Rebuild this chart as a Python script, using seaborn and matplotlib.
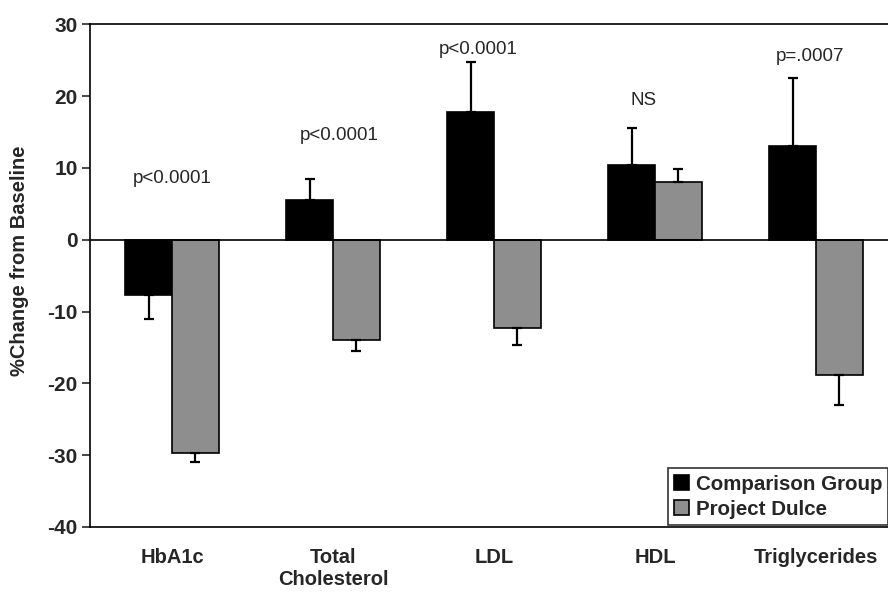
import pandas as pd
import numpy as np
import seaborn as sns
import matplotlib.pyplot as plt
from matplotlib.patches import Patch

# ---------------- data ----------------
categories = ['HbA1c', 'Total\nCholesterol', 'LDL', 'HDL', 'Triglycerides']
groups = ['Comparison Group', 'Project Dulce']
comparison = [-7.7, 5.5, 17.8, 10.4, 13.0]
comparison_err = [3.3, 3.0, 7.0, 5.1, 9.5]
dulce = [-29.7, -14.0, -12.3, 8.1, -18.8]
dulce_err = [1.3, 1.5, 2.3, 1.8, 4.2]
p_labels = ['p<0.0001', 'p<0.0001', 'p<0.0001', 'NS', 'p=.0007']
p_y = [8.5, 14.5, 26.5, 19.4, 25.5]
p_dx = [0.0, 0.04, -0.1, -0.07, -0.04]

colors = ['#000000', '#8e8e8e']

df = pd.DataFrame({
    'cat': categories * 2,
    'group': [groups[0]] * 5 + [groups[1]] * 5,
    'val': comparison + dulce,
    'err': comparison_err + dulce_err,
})

sns.set_style('white')
plt.rcParams['font.family'] = ['Liberation Sans', 'DejaVu Sans']
plt.rcParams['axes.unicode_minus'] = False

fig = plt.figure(figsize=(8.88, 5.95), dpi=100)
ax = fig.add_axes([0.1014, 0.1143, 0.910, 0.845])

sns.barplot(data=df, x='cat', y='val', hue='group', palette=colors,
            width=0.58, edgecolor='black', linewidth=1.2, errorbar=None,
            legend=False, ax=ax)

# one-sided error bars, away from zero
for bar, (_, row) in zip(ax.patches, df.iterrows()):
    xc = bar.get_x() + bar.get_width() / 2
    h = row['val']
    if h >= 0:
        yerr = [[0], [row['err']]]
    else:
        yerr = [[row['err']], [0]]
    ax.errorbar(xc, h, yerr=yerr, fmt='none', ecolor='black',
                elinewidth=1.6, capsize=3.5, capthick=1.6)

for i, txt in enumerate(p_labels):
    ax.text(i + p_dx[i], p_y[i], txt, ha='center', va='center', fontsize=13.5)

ax.axhline(0, color='black', lw=1.2)
ax.set_ylim(-40, 30)
ax.set_xlim(-0.51, 4.51)
ax.set_yticks(range(-40, 31, 10))
ax.set_xlabel('')
ax.set_ylabel('%Change from Baseline', fontsize=14.5, fontweight='bold')
ax.yaxis.set_label_coords(-0.075, 0.53)
ax.tick_params(axis='y', direction='out', length=6, width=1.2, labelsize=15,
               left=True, pad=3)
ax.tick_params(axis='x', length=0, labelsize=14.5, pad=15)
for lab in ax.get_yticklabels() + ax.get_xticklabels():
    lab.set_fontweight('bold')
for s in ax.spines.values():
    s.set_color('black')
    s.set_linewidth(1.2)

handles = [Patch(facecolor=c, edgecolor='black', linewidth=1.2) for c in colors]
leg = ax.legend(handles, groups, loc='lower left', bbox_to_anchor=(0.715, 0.004),
                borderaxespad=0, frameon=True, fancybox=False, edgecolor='black',
                prop={'weight': 'bold', 'size': 14.8}, handlelength=0.75,
                handleheight=0.75, handletextpad=0.3, labelspacing=0.3,
                borderpad=0.3)
leg.get_frame().set_linewidth(1.2)

plt.savefig('out.png', dpi=100)
